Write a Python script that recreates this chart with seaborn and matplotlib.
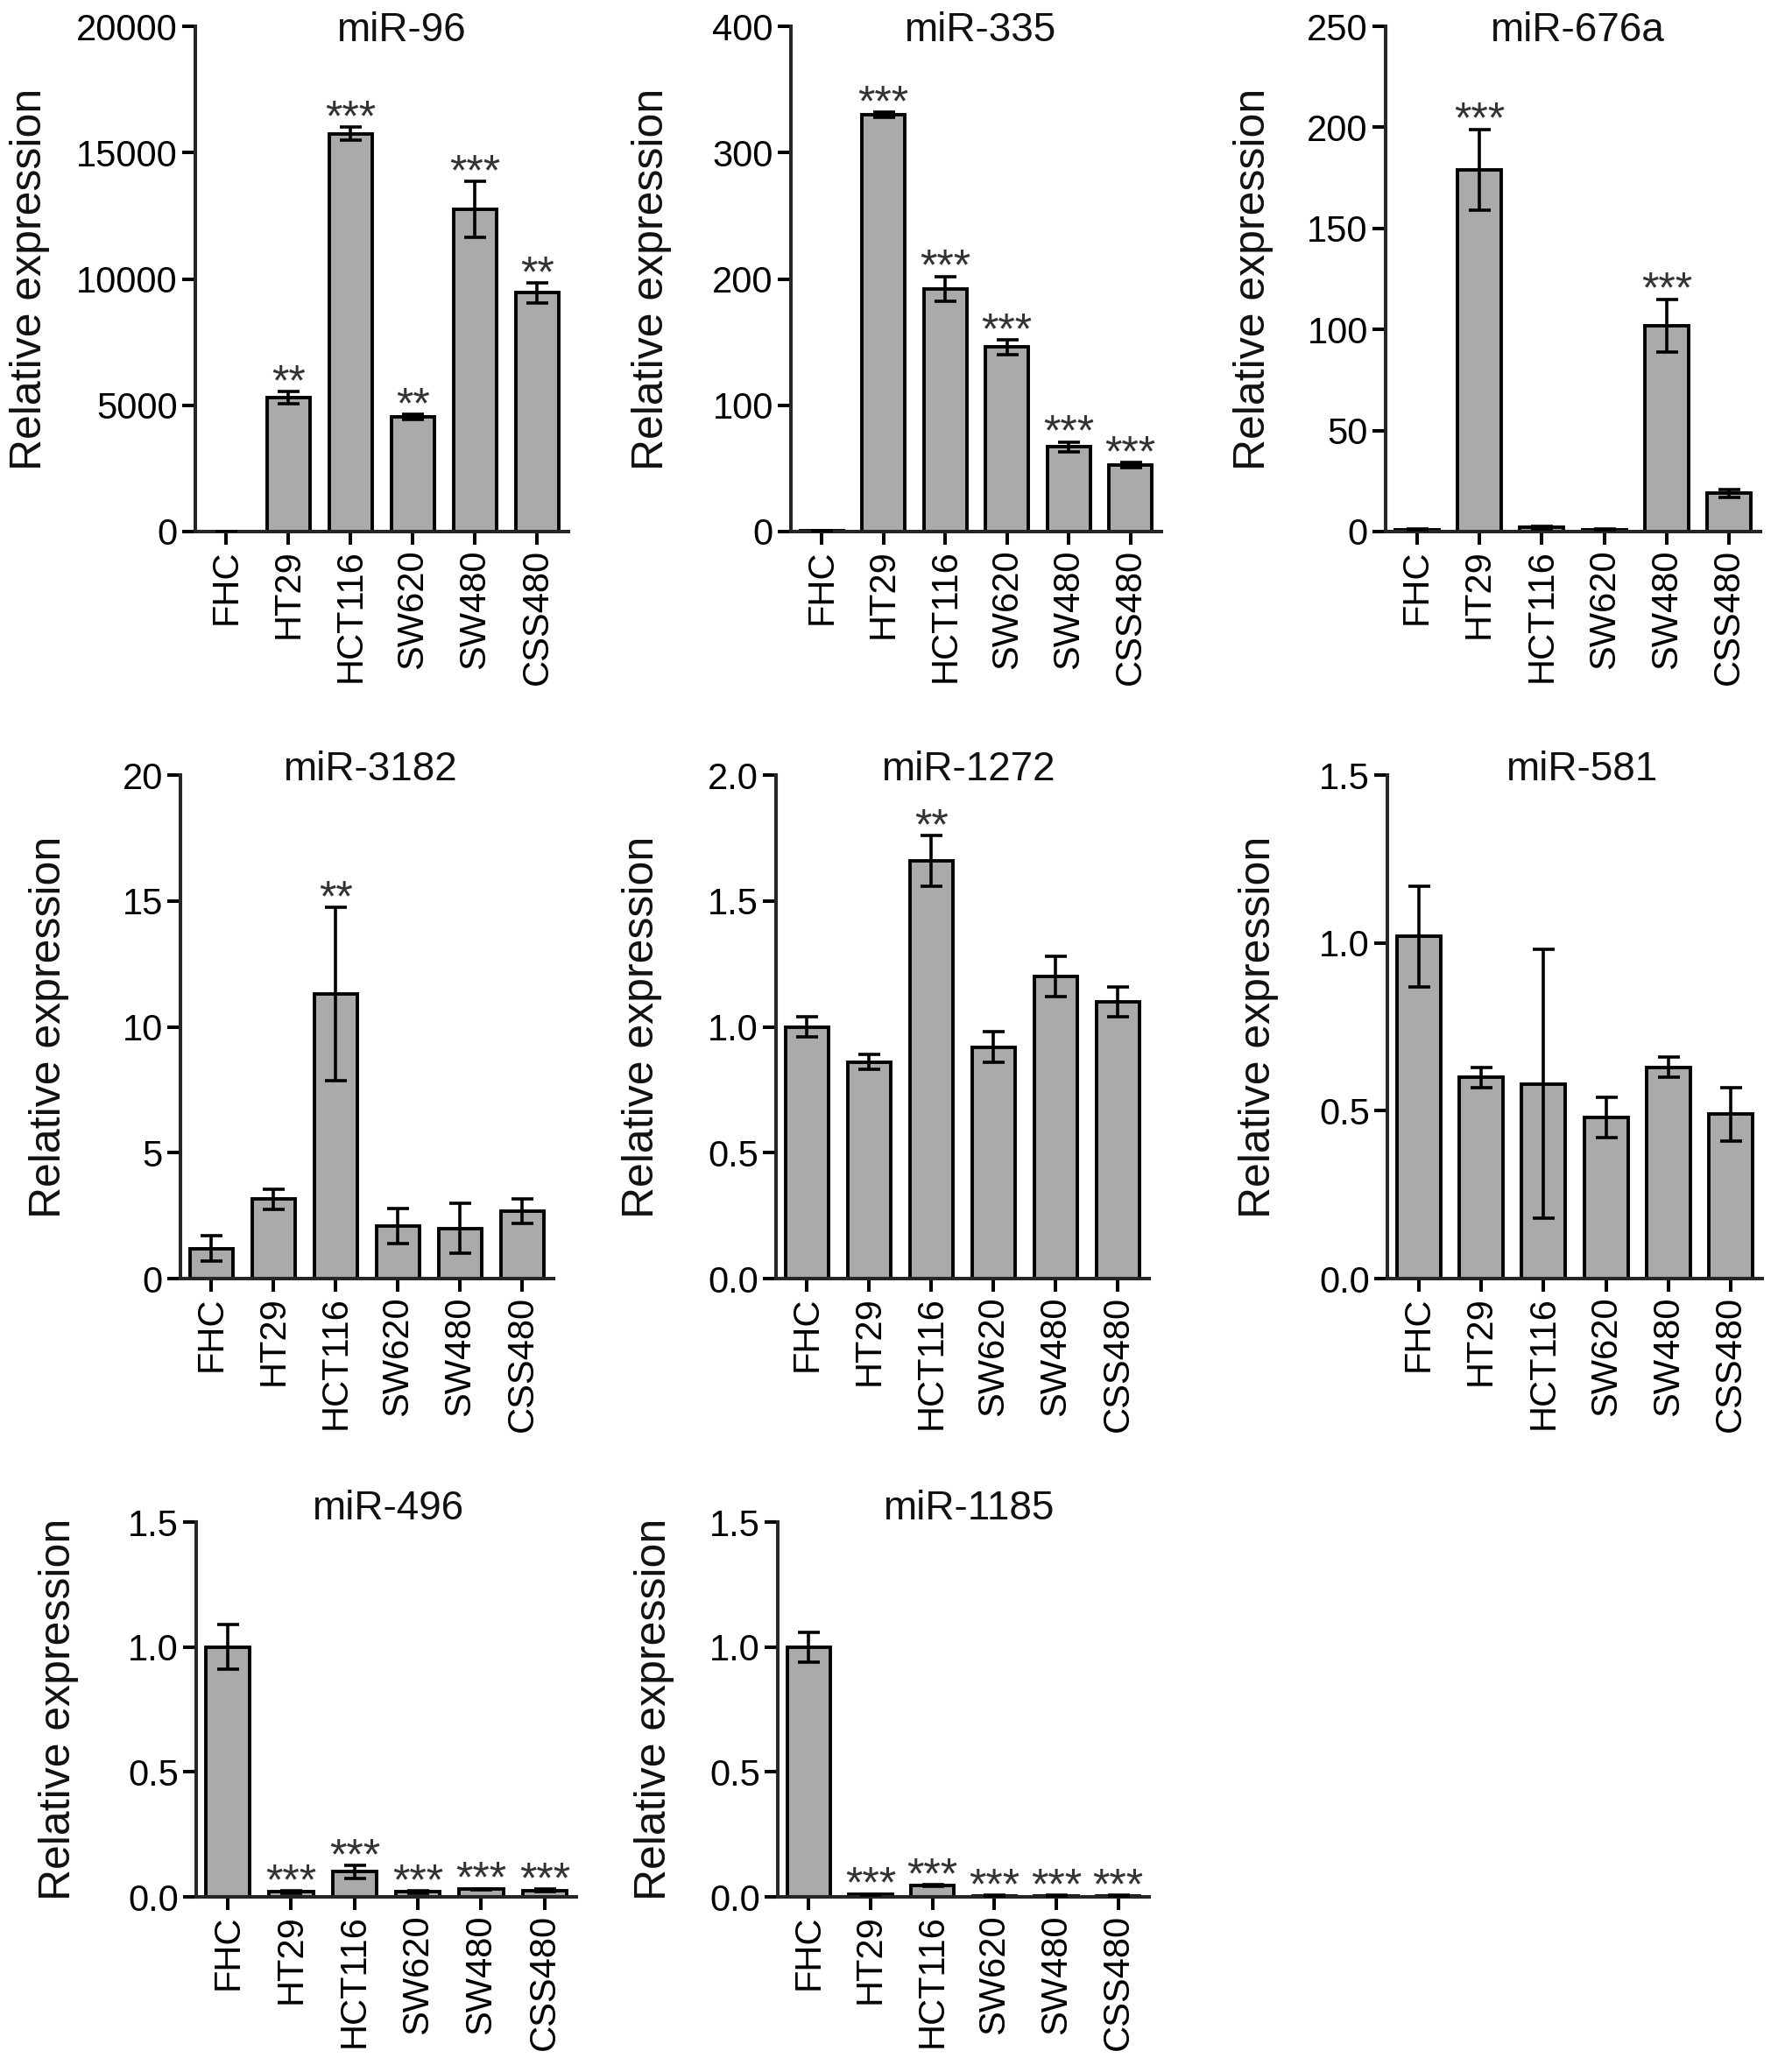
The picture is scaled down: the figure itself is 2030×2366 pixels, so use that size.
import numpy as np
import pandas as pd
import seaborn as sns
import matplotlib.pyplot as plt
from matplotlib.ticker import MultipleLocator, FormatStrFormatter

# cell lines on every x axis
cells = ['FHC', 'HT29', 'HCT116', 'SW620', 'SW480', 'CSS480']

# values (mean, error, significance)
mir96_mean = [1, 5300, 15750, 4550, 12750, 9450]
mir96_err = [0, 230, 250, 100, 1100, 400]
mir96_star = ['', '**', '***', '**', '***', '**']

mir335_mean = [1, 330, 192, 146, 67, 52.5]
mir335_err = [0, 2, 10, 6, 4, 2]
mir335_star = ['', '***', '***', '***', '***', '***']

mir676a_mean = [1, 179, 2, 1, 102, 19]
mir676a_err = [0.3, 20, 0.5, 0.3, 13, 2]
mir676a_star = ['', '***', '', '', '***', '']

mir3182_mean = [1.2, 3.15, 11.3, 2.1, 2.0, 2.68]
mir3182_err = [0.5, 0.4, 3.45, 0.7, 1.0, 0.5]
mir3182_star = ['', '', '**', '', '', '']

mir1272_mean = [1.0, 0.86, 1.66, 0.92, 1.20, 1.10]
mir1272_err = [0.04, 0.03, 0.10, 0.06, 0.08, 0.06]
mir1272_star = ['', '', '**', '', '', '']

mir581_mean = [1.02, 0.60, 0.58, 0.48, 0.63, 0.49]
mir581_err = [0.15, 0.03, 0.40, 0.06, 0.03, 0.08]
mir581_star = ['', '', '', '', '', '']

mir496_mean = [1.0, 0.02, 0.10, 0.02, 0.03, 0.025]
mir496_err = [0.09, 0.005, 0.025, 0.005, 0.003, 0.005]
mir496_star = ['', '***', '***', '***', '***', '***']

mir1185_mean = [1.0, 0.01, 0.045, 0.005, 0.005, 0.005]
mir1185_err = [0.06, 0.002, 0.003, 0.001, 0.001, 0.001]
mir1185_star = ['', '***', '***', '***', '***', '***']

titles = ['miR-96', 'miR-335', 'miR-676a', 'miR-3182', 'miR-1272',
          'miR-581', 'miR-496', 'miR-1185']
means = [mir96_mean, mir335_mean, mir676a_mean, mir3182_mean, mir1272_mean,
         mir581_mean, mir496_mean, mir1185_mean]
errs = [mir96_err, mir335_err, mir676a_err, mir3182_err, mir1272_err,
        mir581_err, mir496_err, mir1185_err]
stars = [mir96_star, mir335_star, mir676a_star, mir3182_star, mir1272_star,
         mir581_star, mir496_star, mir1185_star]
y_max = [20000, 400, 250, 20, 2.0, 1.5, 1.5, 1.5]
y_step = [5000, 100, 50, 5, 0.5, 0.5, 0.5, 0.5]
y_fmt = ['%d', '%d', '%d', '%d', '%.1f', '%.1f', '%.1f', '%.1f']

W, H = 2031, 2366
# axes boxes in pixels: left, top, right, bottom
boxes = [(223, 30, 649, 607), (903, 30, 1326, 607), (1582, 30, 2010, 607),
         (206, 885, 632, 1460), (886, 885, 1312, 1460), (1584, 885, 2012, 1460),
         (224, 1738, 658, 2166), (888, 1738, 1312, 2166)]
label_off = [166, 136, 128, 127, 130, 124, 134, 118]
title_dx = [22, 4, 4, 3, 6, 8, 2, 6]
title_dy = [-17, -17, -17, -6, -6, -6, 3, 3]

sns.set_style('ticks')
plt.rcParams['font.family'] = ['Liberation Sans', 'DejaVu Sans']

fig = plt.figure(figsize=(W / 100, H / 100), dpi=100)

for k in range(8):
    l, t, r, b = boxes[k]
    ax = fig.add_axes([l / W, 1 - b / H, (r - l) / W, (b - t) / H])
    df = pd.DataFrame({'cell': cells, 'value': means[k]})
    sns.barplot(data=df, x='cell', y='value', ax=ax, color='#aaaaaa',
                saturation=1, edgecolor='black', linewidth=2.8, width=0.7)
    ax.errorbar(np.arange(len(cells)), means[k], yerr=errs[k], fmt='none',
                ecolor='black', elinewidth=2.6, capsize=9, capthick=2.6,
                zorder=5)
    for i, s in enumerate(stars[k]):
        if s:
            ax.annotate(s, (i, means[k][i] + errs[k][i]), xytext=(0, -3),
                        textcoords='offset points', ha='center',
                        va='baseline', fontsize=36, color='#333333')
    ax.set_xlim(-0.5, 5.5)
    ax.set_ylim(0, y_max[k])
    ax.yaxis.set_major_locator(MultipleLocator(y_step[k]))
    ax.yaxis.set_major_formatter(FormatStrFormatter(y_fmt[k]))
    sns.despine(ax=ax)
    for side in ['left', 'bottom']:
        ax.spines[side].set_linewidth(2.9)
    ax.tick_params(axis='both', width=2.9, length=11, labelsize=30,
                   color='black', labelcolor='black')
    ax.tick_params(axis='x', rotation=90)
    ax.set_xlabel('')
    ax.set_ylabel('Relative expression', fontsize=36, color='#111111')
    ax.yaxis.set_label_coords(-label_off[k] / (r - l), 0.5)
    ax.annotate(titles[k], (0.5, 1.0), xycoords='axes fraction',
                xytext=(title_dx[k] * 0.72, title_dy[k] * 0.72),
                textcoords='offset points', ha='center', va='baseline',
                fontsize=33, color='#111111')

fig.savefig('out.png', dpi=100)
